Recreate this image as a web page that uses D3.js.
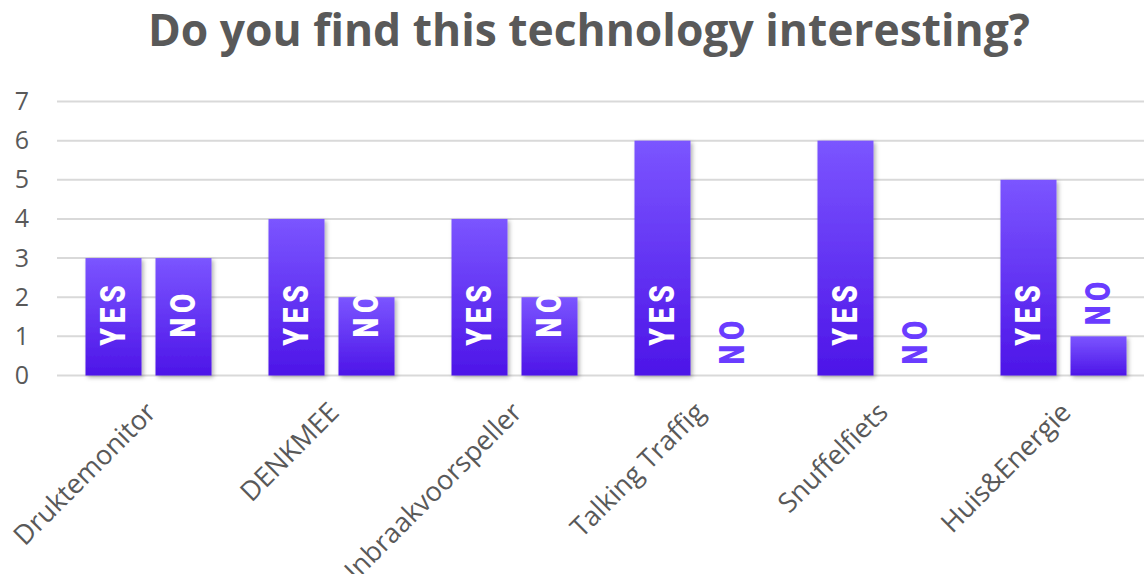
<!DOCTYPE html>
<html>
<head>
<meta charset="utf-8">
<script src="https://cdn.jsdelivr.net/npm/d3@7"></script>
<style>
  html, body { margin: 0; padding: 0; background: #fff; }
  svg { display: block; }
</style>
</head>
<body>
<svg id="chart" width="1144" height="574"></svg>
<script>
// Survey answers per technology
const categories = ["Druktemonitor", "DENKMEE", "Inbraakvoorspeller", "Talking Traffig", "Snuffelfiets", "Huis&Energie"];
const answers = ["YES", "NO"];
const yesValues = [3, 4, 4, 6, 6, 5];
const noValues = [3, 2, 2, 0, 0, 1];
const yTicks = [0, 1, 2, 3, 4, 5, 6, 7];
const title = "Do you find this technology interesting?";

const rows = categories.map((c, i) => ({ category: c, YES: yesValues[i], NO: noValues[i] }));

const svg = d3.select("#chart");
const W = 1144, H = 574;

const x = d3.scaleBand().domain(categories).range([57, 1155]).paddingInner(0).paddingOuter(0);
const xSub = d3.scaleBand().domain(answers).range([0, x.bandwidth()]).paddingInner(0.2).paddingOuter(0.407);
const y = d3.scaleLinear().domain([0, 7]).range([375.5, 101.5]);

// Defs: bar gradient and soft shadow
const defs = svg.append("defs");
const grad = defs.append("linearGradient").attr("id", "barGrad")
  .attr("x1", 0).attr("y1", 0).attr("x2", 0).attr("y2", 1);
grad.append("stop").attr("offset", "0%").attr("stop-color", "#7b55ff");
grad.append("stop").attr("offset", "100%").attr("stop-color", "#4d15e8");
const shadow = defs.append("filter").attr("id", "barShadow")
  .attr("x", "-20%").attr("y", "-20%").attr("width", "150%").attr("height", "150%");
shadow.append("feDropShadow").attr("dx", 2).attr("dy", 2).attr("stdDeviation", 2)
  .attr("flood-color", "#000").attr("flood-opacity", 0.3);

// Title
svg.append("text")
  .attr("x", 589).attr("y", 46)
  .attr("text-anchor", "middle")
  .attr("font-family", "'Open Sans', sans-serif")
  .attr("font-weight", 700)
  .attr("font-size", 45)
  .attr("fill", "#595959")
  .attr("textLength", 882)
  .attr("lengthAdjust", "spacingAndGlyphs")
  .text(title);

// Gridlines
svg.append("g").selectAll("line").data(yTicks).join("line")
  .attr("x1", 57).attr("x2", W)
  .attr("y1", d => y(d)).attr("y2", d => y(d))
  .attr("stroke", "#d9d9d9").attr("stroke-width", 2);

// Y axis labels
const yAxis = d3.axisLeft(y).tickValues(yTicks).tickSize(0).tickPadding(0).tickFormat(d3.format("d"));
const yg = svg.append("g").attr("transform", "translate(29,0)").call(yAxis);
yg.select(".domain").remove();
yg.selectAll("text")
  .attr("font-family", "'Open Sans', sans-serif")
  .attr("font-size", 25)
  .attr("fill", "#595959");

// Bars
const groups = svg.append("g").selectAll("g").data(rows).join("g")
  .attr("transform", d => `translate(${x(d.category)},0)`);

groups.selectAll("rect").data(d => answers.map(a => ({ key: a, value: d[a] }))).join("rect")
  .filter(d => d.value > 0)
  .attr("x", d => xSub(d.key))
  .attr("y", d => y(d.value))
  .attr("width", xSub.bandwidth())
  .attr("height", d => y(0) - y(d.value))
  .attr("fill", "url(#barGrad)")
  .attr("filter", "url(#barShadow)");

// Bar labels, rotated; inside tall bars, above short ones
const labelFont = "Roboto, 'DejaVu Sans', sans-serif";
groups.selectAll("text.bar-label").data(d => answers.map(a => ({ key: a, value: d[a] }))).join("text")
  .attr("class", "bar-label")
  .each(function(d) {
    const cx = xSub(d.key) + xSub.bandwidth() / 2;
    const barH = y(0) - y(d.value);
    const inside = barH > 70;
    const t = d3.select(this)
      .attr("font-family", labelFont)
      .attr("font-weight", 900)
      .attr("font-size", 35)
      .attr("letter-spacing", 6)
      .attr("dominant-baseline", "central")
      .text(d.key);
    if (inside) {
      t.attr("text-anchor", "middle")
        .attr("fill", "#ffffff")
        .attr("transform", `translate(${cx},${y(0) - 60}) rotate(-90) scale(0.8,1) translate(3,0)`);
    } else {
      t.attr("text-anchor", "start")
        .attr("fill", "#6a3cff")
        .attr("transform", `translate(${cx},${y(d.value) - 11}) rotate(-90) scale(0.8,1)`);
    }
  });

// Category labels
svg.append("g").selectAll("text").data(categories).join("text")
  .attr("transform", d => `translate(${x(d) + x.bandwidth() / 2 + 9},${414}) rotate(-45)`)
  .attr("text-anchor", "end")
  .attr("font-family", "'Open Sans', sans-serif")
  .attr("font-size", 27)
  .attr("fill", "#595959")
  .text(d => d);
</script>
</body>
</html>
